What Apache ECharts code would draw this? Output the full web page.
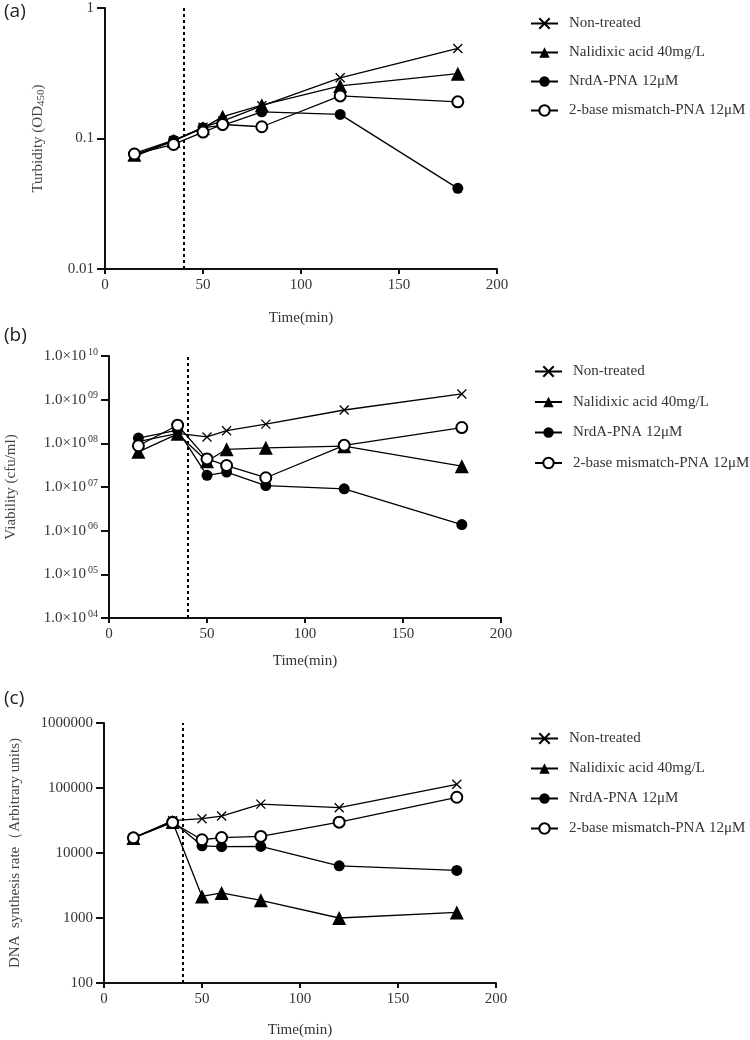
<!DOCTYPE html>
<html>
<head>
<meta charset="utf-8">
<script src="https://cdn.jsdelivr.net/npm/echarts@6/dist/echarts.min.js"></script>
<style>
html, body { margin: 0; padding: 0; background: #fff; }
#chart { width: 750px; height: 1040px; }
</style>
</head>
<body>
<div id="chart"></div>
<script>
// sampling times (min)
const times = [15, 35, 50, 60, 80, 120, 180];
const names = ['Non-treated', 'Nalidixic acid 40mg/L', 'NrdA-PNA 12μM', '2-base mismatch-PNA 12μM'];
const xTicks = [0, 50, 100, 150, 200];

// (a) turbidity OD450
const turbNon = [0.073, 0.096, 0.122, 0.136, 0.178, 0.292, 0.49];
const turbNal = [0.075, 0.096, 0.12, 0.147, 0.18, 0.253, 0.314];
const turbNrd = [0.077, 0.097, 0.121, 0.126, 0.16, 0.153, 0.0415];
const turbMis = [0.076, 0.09, 0.112, 0.128, 0.123, 0.212, 0.191];

// (b) viability cfu/ml
const viaNon = [1.1e8, 1.7e8, 1.4e8, 1.95e8, 2.75e8, 5.8e8, 1.35e9];
const viaNal = [6.4e7, 1.65e8, 3.9e7, 7.3e7, 7.9e7, 8.6e7, 3.0e7];
const viaNrd = [1.32e8, 2.0e8, 1.85e7, 2.2e7, 1.08e7, 9.1e6, 1.38e6];
const viaMis = [8.8e7, 2.6e8, 4.4e7, 3.1e7, 1.63e7, 9.0e7, 2.3e8];

// (c) DNA synthesis rate
const dnaNon = [17000, 31400, 33700, 37000, 56500, 49800, 114000];
const dnaNal = [17000, 30000, 2150, 2430, 1870, 1000, 1220];
const dnaNrd = [17200, 30700, 12900, 12500, 12600, 6350, 5400];
const dnaMis = [17100, 29500, 16000, 17300, 18000, 29800, 72000];

const markerLine = 40;

const serif = 'Liberation Serif';
const crossPath = 'path://M0,0L10,10M0,10L10,0';

function pairs(ys) {
  return times.map((t, i) => [t, ys[i]]);
}

const symbols = [
  { symbol: crossPath, size: 9, style: { color: '#000', borderColor: '#000', borderWidth: 1.3 } },
  { symbol: 'triangle', size: 14, style: { color: '#000' } },
  { symbol: 'circle', size: 11, style: { color: '#000' } },
  { symbol: 'emptyCircle', size: 11, style: { color: '#000', borderWidth: 1.3 } }
];

const grids = [
  { left: 105, top: 8, width: 392, height: 261, outerBoundsMode: 'none' },
  { left: 109, top: 356, width: 392, height: 262, outerBoundsMode: 'none' },
  { left: 104, top: 723, width: 392, height: 260, outerBoundsMode: 'none' }
];

function xAxisFor(i, nameGap) {
  return {
    type: 'value', gridIndex: i, min: 0, max: 200, interval: 50,
    name: 'Time(min)', nameLocation: 'middle', nameGap: nameGap,
    nameTextStyle: { fontFamily: serif, fontSize: 15, color: '#333' },
    axisLine: { lineStyle: { color: '#111', width: 2 } },
    axisTick: { length: 5, lineStyle: { color: '#111', width: 2 } },
    axisLabel: { fontFamily: serif, fontSize: 15, color: '#333', margin: 9 },
    splitLine: { show: false }
  };
}

function yAxisFor(i, min, max, name, nameGap, formatter, rich) {
  return {
    type: 'log', logBase: 10, gridIndex: i, min: min, max: max,
    name: name, nameLocation: 'middle', nameGap: nameGap,
    nameTextStyle: { fontFamily: serif, fontSize: 15, color: '#444', rich: {
      sub: { fontFamily: serif, fontSize: 11, color: '#444', verticalAlign: 'bottom', padding: [6, 0, 0, 0] }
    } },
    axisLine: { show: true, lineStyle: { color: '#111', width: 2 } },
    axisTick: { length: 8, lineStyle: { color: '#111', width: 2 } },
    axisLabel: { fontFamily: serif, fontSize: 15, color: '#333', margin: 11, formatter: formatter, rich: rich },
    splitLine: { show: false },
    minorTick: { show: false }
  };
}

const plain = v => String(Number(v.toPrecision(1)));
const sci = v => {
  const e = Math.round(Math.log10(v));
  return '1.0×10{sup|' + String(e).padStart(2, '0') + '}';
};

function seriesFor(i, datasets) {
  return datasets.map((ys, k) => {
    const s = {
      name: names[k], type: 'line', xAxisIndex: i, yAxisIndex: i,
      data: pairs(ys),
      symbol: symbols[k].symbol, symbolSize: symbols[k].size,
      itemStyle: symbols[k].style,
      lineStyle: { color: '#000', width: 1.3 },
      showAllSymbol: true,
      z: 3 + k
    };
    if (k === 0) {
      s.markLine = {
        silent: true, symbol: ['none', 'none'], label: { show: false },
        lineStyle: { color: '#000', width: 2, type: [3, 3] },
        data: [{ xAxis: markerLine }]
      };
    }
    return s;
  });
}

function legendFor(left, top, gap) {
  return {
    orient: 'vertical', left: left, top: top,
    data: names, itemWidth: 27, itemHeight: 13, itemGap: gap,
    textStyle: { fontFamily: serif, fontSize: 15, color: '#333', padding: [0, 0, 0, 6] }
  };
}

function panelTitle(text, top) {
  return { text: text, left: 4, top: top, padding: 0,
    textStyle: { fontFamily: 'Open Sans', fontSize: 19, fontWeight: 'normal', color: '#222' } };
}

const chart = echarts.init(document.getElementById('chart'));
chart.setOption({
  backgroundColor: '#fff',
  animation: false,
  title: [panelTitle('(a)', 2), panelTitle('(b)', 326), panelTitle('(c)', 689)],
  grid: grids,
  legend: [legendFor(525, 11, 14), legendFor(529, 359, 15.5), legendFor(525, 726, 15)],
  xAxis: [xAxisFor(0, 42), xAxisFor(1, 36), xAxisFor(2, 40)],
  yAxis: [
    yAxisFor(0, 0.01, 1, 'Turbidity (OD{sub|450})', 58, plain),
    yAxisFor(1, 1e4, 1e10, 'Viability (cfu/ml)', 90, sci,
      { sup: { fontFamily: serif, fontSize: 10, color: '#333', verticalAlign: 'top', padding: [0, 0, 8, 2] } }),
    yAxisFor(2, 100, 1e6, 'DNA  synthesis rate（Arbitrary units)', 81, plain)
  ],
  series: [].concat(
    seriesFor(0, [turbNon, turbNal, turbNrd, turbMis]),
    seriesFor(1, [viaNon, viaNal, viaNrd, viaMis]),
    seriesFor(2, [dnaNon, dnaNal, dnaNrd, dnaMis])
  )
});
</script>
</body>
</html>
